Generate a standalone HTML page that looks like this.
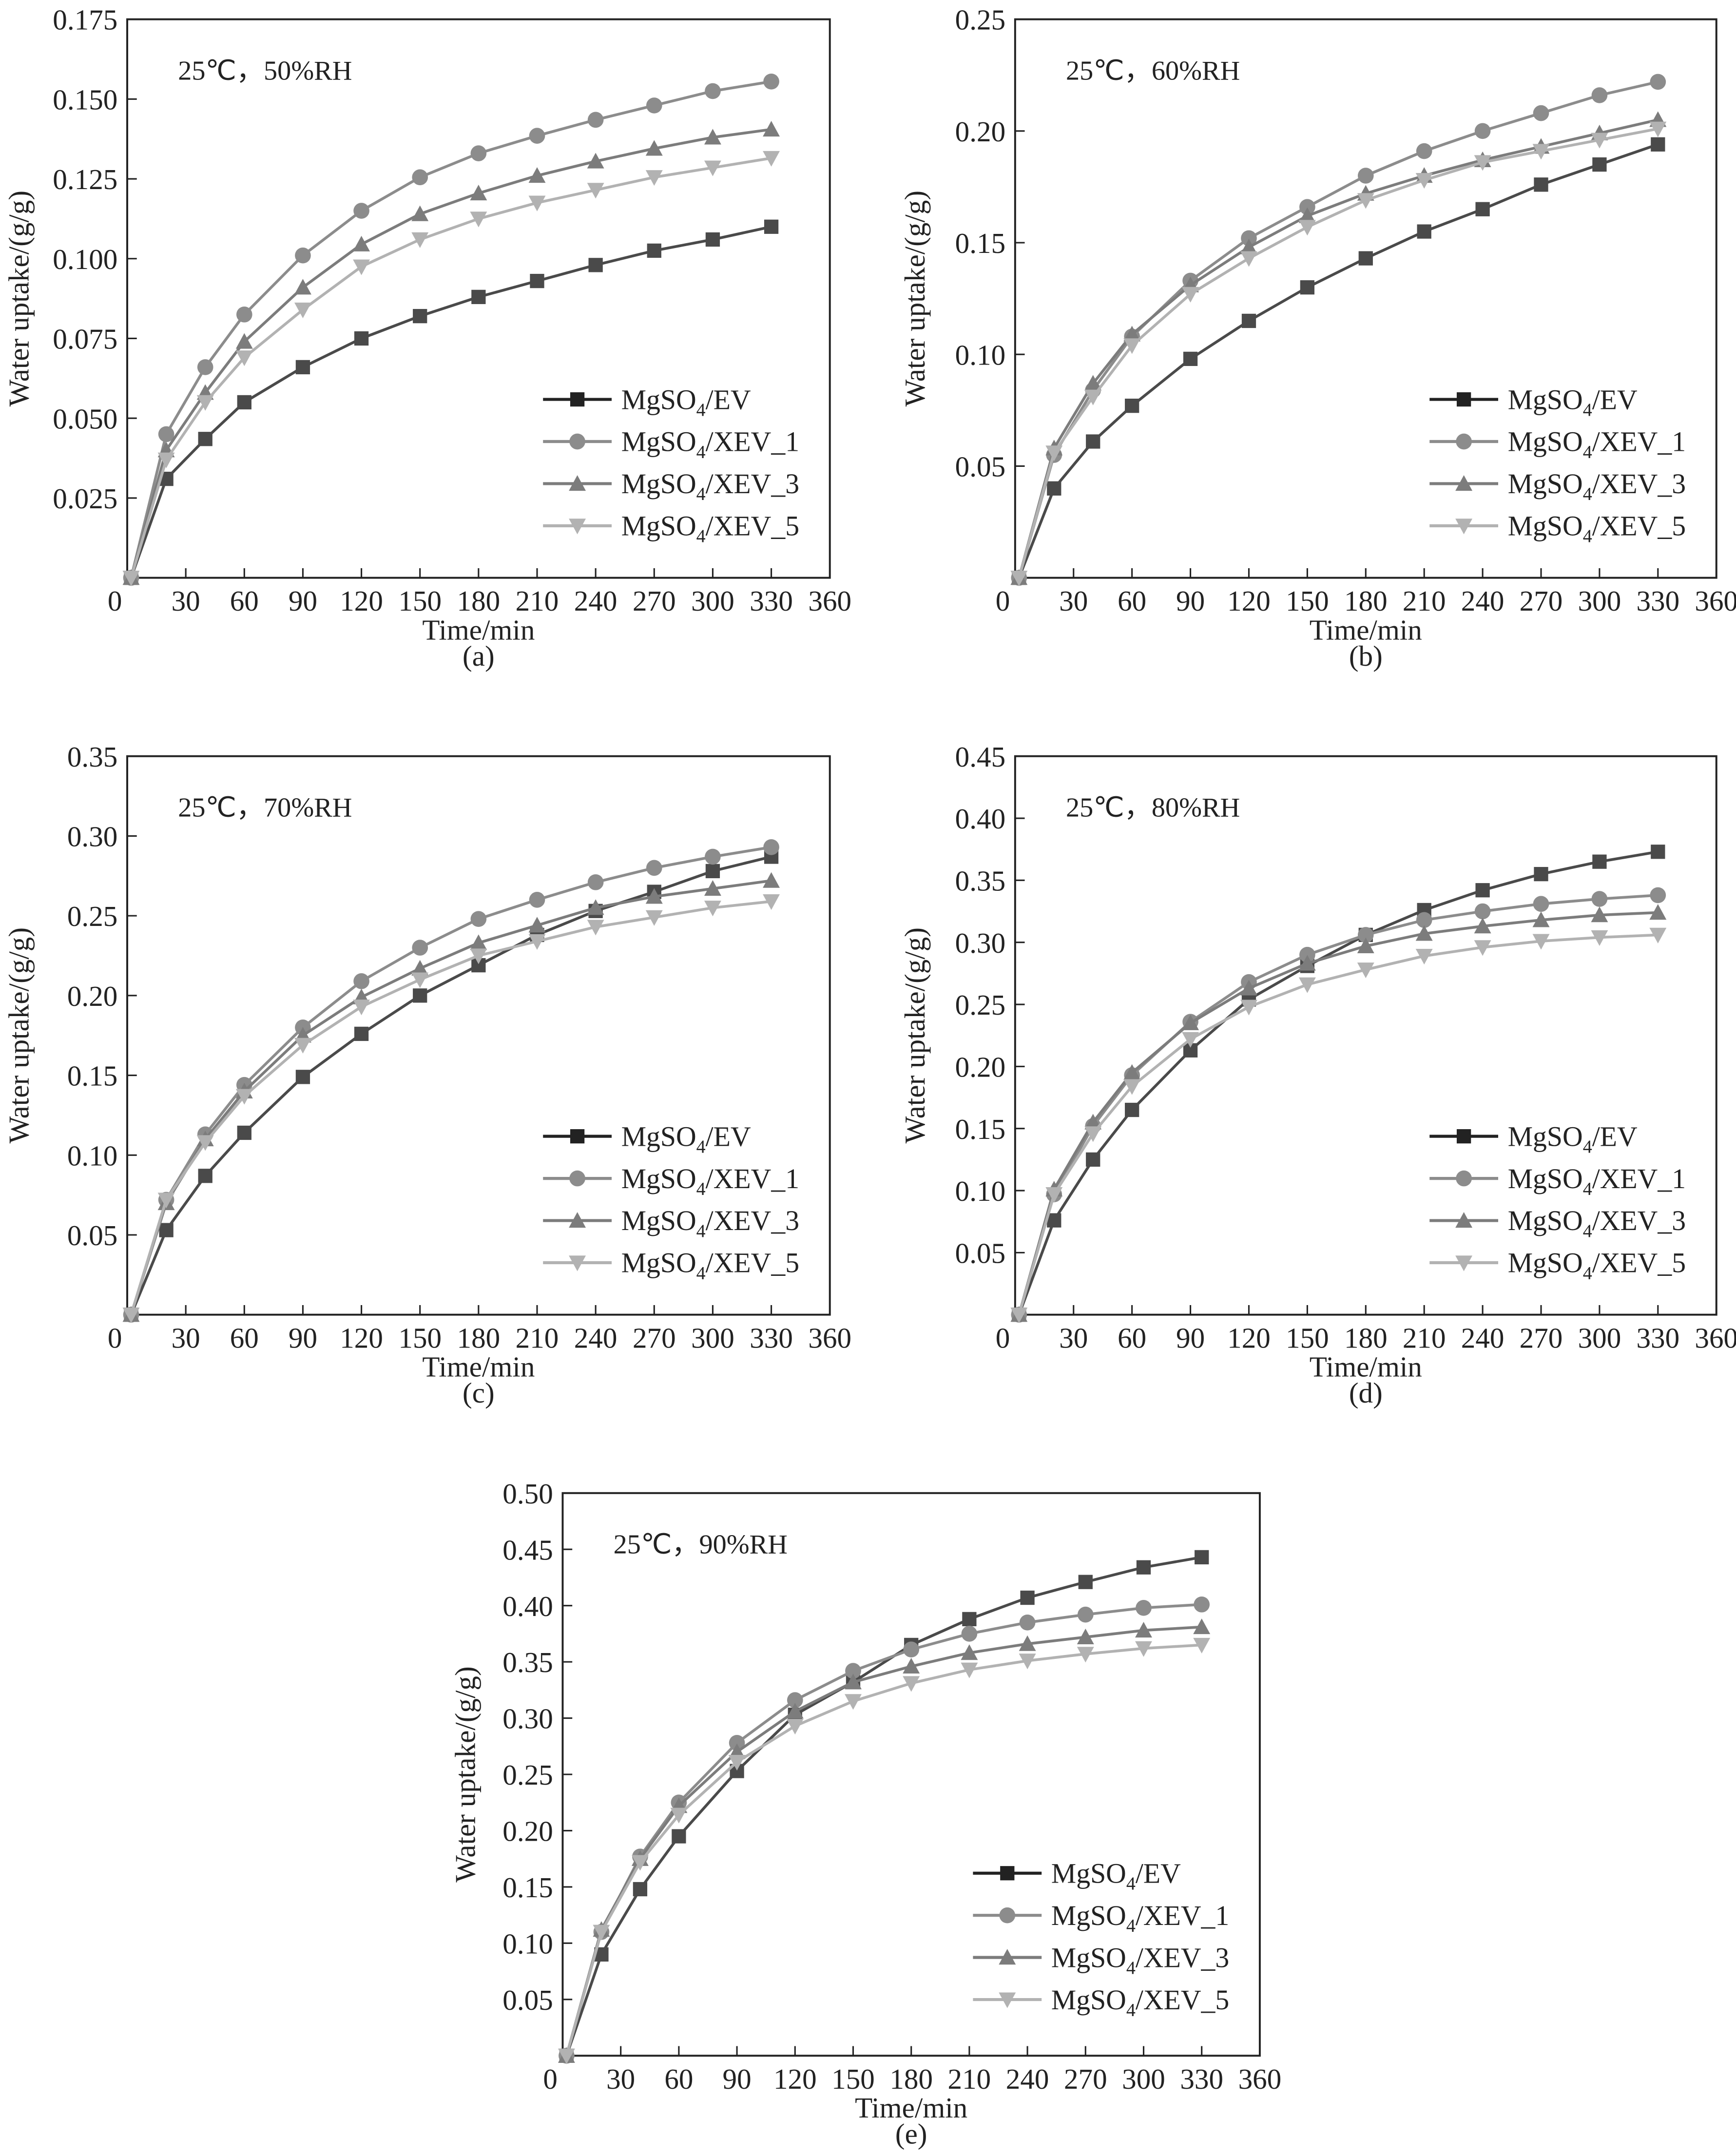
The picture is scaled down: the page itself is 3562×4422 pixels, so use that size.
<!DOCTYPE html>
<html><head><meta charset="utf-8"><style>
html,body{margin:0;padding:0;background:#fff}
svg{display:block}
text{font-family:"Liberation Serif",serif;fill:#222}
</style></head><body>
<svg id="fig" width="3562" height="4422" viewBox="0 0 1265 1570.3" xmlns="http://www.w3.org/2000/svg"></svg>
<script>
const times = [2,20,40,60,90,120,150,180,210,240,270,300,330];
const xTicks = [0,30,60,90,120,150,180,210,240,270,300,330,360];
const seriesNames = ["EV","XEV_1","XEV_3","XEV_5"];
const aEV  = [0,.031,.0435,.055,.066,.075,.082,.088,.093,.098,.1025,.106,.110];
const aX1  = [0,.045,.066,.0825,.101,.115,.1255,.133,.1385,.1435,.148,.1525,.1555];
const aX3  = [0,.040,.058,.074,.091,.1045,.114,.1205,.126,.1305,.1345,.138,.1405];
const aX5  = [0,.037,.055,.069,.084,.0975,.106,.1125,.1175,.1215,.1255,.1285,.1315];
const bEV  = [0,.040,.061,.077,.098,.115,.130,.143,.155,.165,.176,.185,.194];
const bX1  = [0,.055,.084,.108,.133,.152,.166,.180,.191,.200,.208,.216,.222];
const bX3  = [0,.058,.087,.109,.131,.148,.162,.172,.180,.187,.193,.199,.205];
const bX5  = [0,.056,.081,.104,.127,.143,.157,.169,.178,.186,.191,.196,.201];
const cEV  = [0,.053,.087,.114,.149,.176,.200,.219,.238,.253,.265,.278,.287];
const cX1  = [0,.072,.113,.144,.180,.209,.230,.248,.260,.271,.280,.287,.293];
const cX3  = [0,.070,.110,.140,.175,.199,.217,.233,.244,.255,.262,.267,.272];
const cX5  = [0,.072,.108,.137,.169,.193,.210,.225,.234,.243,.249,.255,.259];
const dEV  = [0,.076,.125,.165,.213,.254,.281,.306,.326,.342,.355,.365,.373];
const dX1  = [0,.097,.152,.193,.236,.268,.290,.306,.318,.325,.331,.335,.338];
const dX3  = [0,.101,.155,.195,.235,.263,.283,.297,.307,.313,.318,.322,.324];
const dX5  = [0,.097,.146,.184,.222,.248,.266,.278,.289,.296,.301,.304,.306];
const eEV  = [0,.090,.148,.195,.253,.303,.332,.365,.388,.407,.421,.434,.443];
const eX1  = [0,.110,.177,.225,.278,.316,.342,.361,.375,.385,.392,.398,.401];
const eX3  = [0,.112,.175,.222,.270,.306,.332,.346,.358,.366,.372,.378,.381];
const eX5  = [0,.110,.172,.214,.261,.293,.315,.331,.343,.351,.357,.362,.365];
const aTicks = ["0.025","0.050","0.075","0.100","0.125","0.150","0.175"];
const bTicks = ["0.05","0.10","0.15","0.20","0.25"];
const cTicks = ["0.05","0.10","0.15","0.20","0.25","0.30","0.35"];
const dTicks = ["0.05","0.10","0.15","0.20","0.25","0.30","0.35","0.40","0.45"];
const eTicks = ["0.05","0.10","0.15","0.20","0.25","0.30","0.35","0.40","0.45","0.50"];

const NS="http://www.w3.org/2000/svg";
const svg=document.getElementById('fig');
const colors=["#4a4a4a","#8c8c8c","#7c7c7c","#b2b2b2"];
const markers=["square","circle","tri","dtri"];
function mk(tag,attrs,parent){const e=document.createElementNS(NS,tag);for(const k in attrs)e.setAttribute(k,attrs[k]);(parent||svg).appendChild(e);return e;}
function marker(g,type,x,y,c){
  let e;const r=5.2;
  if(type==="square") e=mk('rect',{x:x-r,y:y-r,width:2*r,height:2*r,fill:c},g);
  else if(type==="circle") e=mk('circle',{cx:x,cy:y,r:r+0.6,fill:c},g);
  else if(type==="tri") e=mk('polygon',{points:`${x},${y-r-1} ${x-r-1},${y+r} ${x+r+1},${y+r}`,fill:c},g);
  else e=mk('polygon',{points:`${x},${y+r+1} ${x-r-1},${y-r} ${x+r+1},${y-r}`,fill:c},g);
  
  
}
const panels=[
 {id:"a",L:92.7,T:14,W:512,H:407,ty:78,ymax:0.175,ticks:aTicks,data:[aEV,aX1,aX3,aX5],rh:"50%RH"},
 {id:"b",L:739.7,T:14,W:511,H:407,ty:72,ymax:0.25,ticks:bTicks,data:[bEV,bX1,bX3,bX5],rh:"60%RH"},
 {id:"c",L:92.7,T:551,W:512,H:407,ty:78,ymax:0.35,ticks:cTicks,data:[cEV,cX1,cX3,cX5],rh:"70%RH"},
 {id:"d",L:739.7,T:551,W:511,H:407,ty:72,ymax:0.45,ticks:dTicks,data:[dEV,dX1,dX3,dX5],rh:"80%RH"},
 {id:"e",L:410,T:1088,W:508,H:410,ty:70,ymax:0.50,ticks:eTicks,data:[eEV,eX1,eX3,eX5],rh:"90%RH"}
];
const FS=21;
panels.forEach(p=>{
  const W=p.W,H=p.H;
  const g=mk('g',{});
  
  
  const B=p.T+H,R=p.L+W;
  const X=v=>p.L+v/360*W, Y=v=>B-v/p.ymax*H;
  const frame=mk('rect',{x:p.L,y:p.T,width:W,height:H,fill:"none",stroke:"#222","stroke-width":1.4},g);
  
  
  xTicks.forEach((t,i)=>{
    const x=X(t);
    if(t>0&&t<360) mk('line',{x1:x,y1:B,x2:x,y2:B-7,stroke:"#222","stroke-width":1.1},g);
    const lx = (i===0 ? x-9 : x);
    const tx=mk('text',{x:lx,y:B+24,"font-size":FS,"text-anchor":"middle"},g);
    tx.textContent=t;
    
    
  });
  p.ticks.forEach(s=>{
    const v=parseFloat(s),y=Y(v);
    mk('line',{x1:p.L,y1:y,x2:p.L+7,y2:y,stroke:"#222","stroke-width":1.1},g);
    const tx=mk('text',{x:p.L-7,y:y+7.5,"font-size":FS,"text-anchor":"end"},g);
    tx.textContent=s;
    
    
  });
  const xt=mk('text',{x:p.L+W/2,y:B+45,"font-size":FS,"text-anchor":"middle"},g);
  xt.textContent="Time/min";
  
  
  const cap=mk('text',{x:p.L+W/2,y:B+64,"font-size":FS,"text-anchor":"middle"},g);
  cap.textContent="("+p.id+")";
  
  
  const cy=p.T+H/2, cx=p.L-p.ty+6;
  const yt=mk('text',{x:cx,y:cy,"font-size":FS,"text-anchor":"middle",transform:`rotate(-90 ${cx} ${cy})`},g);
  yt.textContent="Water uptake/(g/g)";
  
  
  const an=mk('text',{x:p.L+37,y:p.T+44,"font-size":20,"font-family":"Liberation Serif, Noto Serif CJK SC, serif"},g);
  an.textContent="25℃，"+p.rh;
  
  
  p.data.forEach((arr,si)=>{
    const pts=arr.map((v,i)=>X(times[i])+","+Y(v)).join(" ");
    const pl=mk('polyline',{points:pts,fill:"none",stroke:colors[si],"stroke-width":2},g);
    
    
    arr.forEach((v,i)=>marker(g,markers[si],X(times[i]),Y(v),colors[si]));
  });
  seriesNames.forEach((n,si)=>{
    const ly=p.T+277+si*30.7;
    const lg=mk('g',{},g);
    
    
    mk('line',{x1:R-209,y1:ly,x2:R-159,y2:ly,stroke:si===0?"#222":colors[si],"stroke-width":2.2},lg);
    marker(lg,markers[si],R-184,ly,si===0?"#222":colors[si]);
    const t=mk('text',{x:R-152,y:ly+7,"font-size":20.5},lg);
    const t1=mk('tspan',{},t);t1.textContent="MgSO";
    const t2=mk('tspan',{"font-size":13.5,dy:5},t);t2.textContent="4";
    const t3=mk('tspan',{dy:-5},t);t3.textContent="/"+n;
  });
  svg.appendChild(g);
});
</script>
</body></html>
